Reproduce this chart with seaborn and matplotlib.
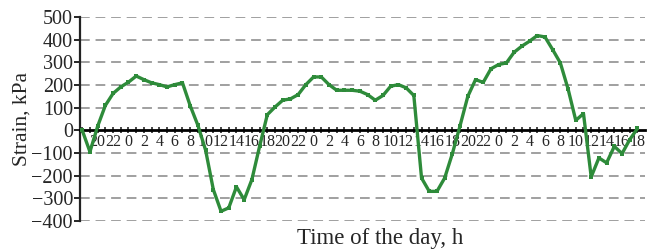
import numpy as np
import pandas as pd
import matplotlib
matplotlib.use("Agg")
import matplotlib.pyplot as plt
import seaborn as sns

# hourly readings, starting at 18 h on day one
hours = list(range(73))
strain = [0, -95, 18, 110, 163, 192, 213, 240, 224, 210, 202, 192, 202, 210,
          109, 22, -88, -262, -358, -343, -250, -307, -218, -71, 69, 103, 133, 139,
          158, 202, 236, 236, 202, 177, 177, 177, 173, 158, 133, 154, 195, 202,
          188, 154, -211, -270, -270, -211, -103, 21, 150, 224, 212, 272, 291, 298,
          345, 372, 394, 419, 413, 357, 298, 183, 44, 74, -206, -122, -144, -71,
          -103, -41, 8]
hour_of_day = [(18 + h) % 24 for h in hours]
tick_labels = [str(v) if (i % 2 == 0 and i > 0) else "" for i, v in enumerate(hour_of_day)]
y_ticks = [-400, -300, -200, -100, 0, 100, 200, 300, 400, 500]

df = pd.DataFrame({"hour": hours, "strain": strain})

sns.set_style("white")
plt.rcParams["font.family"] = ["Liberation Serif", "DejaVu Serif"]

fig = plt.figure(figsize=(6.55, 2.5), dpi=100)
ax = fig.add_axes([0.122, 0.117, 0.863, 0.814])

for yv in y_ticks:
    if yv != 0:
        ax.axhline(yv, color="#a0a0a0", lw=1.4, ls=(0, (5, 3)), zorder=0)

sns.lineplot(data=df, x="hour", y="strain", ax=ax, color="#2e8b3a", lw=2.4,
             marker="s", markersize=3.5, markeredgewidth=0, zorder=3)

ax.set_xlim(-0.3, 73)
ax.set_ylim(-400, 500)
ax.set_yticks(y_ticks)
ax.set_xticks(hours)
ax.set_xticklabels(tick_labels)

for s in ["top", "right"]:
    ax.spines[s].set_visible(False)
ax.spines["bottom"].set_position(("data", 0))
ax.spines["bottom"].set_linewidth(2)
ax.spines["bottom"].set_color("black")
ax.spines["left"].set_linewidth(1.6)
ax.spines["left"].set_color("#222222")

ax.tick_params(axis="x", direction="inout", length=5, width=1.2, pad=0,
               labelsize=11.5, bottom=True)
ax.tick_params(axis="y", direction="out", length=4, width=1.4, pad=1,
               labelsize=14.5, left=True)

ax.set_xlabel("")
ax.set_ylabel("Strain, kPa", fontsize=15.5, labelpad=0)
fig.text(0.58, 0.005, "Time of the day, h", ha="center", va="bottom", fontsize=16.5)

fig.savefig("out.png", dpi=100)
